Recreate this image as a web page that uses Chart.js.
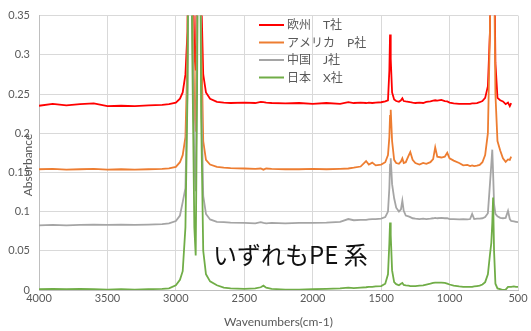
<!DOCTYPE html>
<html>
<head>
<meta charset="utf-8">
<script src="https://cdn.jsdelivr.net/npm/chart.js@4"></script>
<style>
  body { margin: 0; background: #fff; }
  #wrap { width: 531px; height: 331px; }
</style>
</head>
<body>
<div id="wrap"><canvas id="irChart" width="531" height="331"></canvas></div>
<script>
// wavenumber grid (cm-1), high to low
const wavenumbers = [
  4000, 3900, 3800, 3700, 3600, 3500, 3400, 3300, 3200, 3100,
  3050, 3000, 2970, 2950, 2930, 2915, 2900, 2880, 2865, 2855,
  2845, 2830, 2815, 2800, 2780, 2750, 2700, 2650, 2600, 2500,
  2420, 2380, 2360, 2340, 2300, 2200, 2100, 2000, 1900, 1800,
  1740, 1700, 1650, 1610, 1590, 1565, 1540, 1500, 1470, 1450,
  1440, 1435, 1430, 1420, 1405, 1390, 1370, 1355, 1345, 1335,
  1320, 1300, 1287, 1270, 1250, 1220, 1193, 1170, 1140, 1120,
  1105, 1090, 1060, 1035, 1017, 1000, 970, 930, 900, 870,
  850, 835, 820, 800, 780, 760, 740, 720, 705, 695,
  688, 682, 675, 665, 650, 630, 610, 590, 573, 560,
  550, 530, 515, 500
];

const europeT = [
  0.235, 0.2375, 0.2355, 0.237, 0.238, 0.2345, 0.235, 0.2345, 0.2355, 0.236,
  0.237, 0.239, 0.244, 0.252, 0.275, 0.33, 0.70, 0.45, 0.30, 0.28,
  0.42, 0.75, 0.38, 0.275, 0.252, 0.244, 0.24, 0.239, 0.2385, 0.239,
  0.2385, 0.24, 0.2395, 0.239, 0.2385, 0.238, 0.2385, 0.2375, 0.2385, 0.2375,
  0.2395, 0.2385, 0.239, 0.2385, 0.239, 0.2385, 0.239, 0.2395, 0.2405, 0.242,
  0.28, 0.326, 0.295, 0.252, 0.243, 0.241, 0.24, 0.242, 0.2445, 0.241,
  0.2405, 0.24, 0.2395, 0.239, 0.2385, 0.239, 0.2385, 0.24, 0.2405, 0.2415,
  0.242, 0.2415, 0.2425, 0.241, 0.2405, 0.239, 0.238, 0.2375, 0.2375, 0.2375,
  0.2375, 0.238, 0.238, 0.2385, 0.2395, 0.241, 0.245, 0.26, 0.33, 0.55,
  0.70, 0.60, 0.45, 0.29, 0.245, 0.242, 0.2405, 0.237, 0.239, 0.2345,
  0.2385, null, null, null
];

const americaP = [
  0.154, 0.1545, 0.1535, 0.154, 0.1545, 0.1535, 0.154, 0.1535, 0.154, 0.1545,
  0.155, 0.157, 0.163, 0.172, 0.195, 0.30, 0.70, 0.40, 0.23, 0.202,
  0.38, 0.75, 0.33, 0.19, 0.166, 0.16, 0.157, 0.156, 0.1555, 0.155,
  0.1545, 0.155, 0.1535, 0.155, 0.1545, 0.154, 0.154, 0.1545, 0.154, 0.1545,
  0.155, 0.156, 0.1575, 0.1645, 0.160, 0.1625, 0.159, 0.160, 0.163, 0.172,
  0.195, 0.222, 0.230, 0.19, 0.166, 0.162, 0.161, 0.164, 0.168, 0.162,
  0.163, 0.171, 0.176, 0.166, 0.162, 0.160, 0.162, 0.161, 0.163, 0.167,
  0.182, 0.170, 0.169, 0.170, 0.175, 0.168, 0.165, 0.162, 0.159, 0.1595,
  0.158, 0.159, 0.158, 0.1585, 0.1595, 0.163, 0.172, 0.20, 0.33, 0.60,
  0.75, 0.65, 0.42, 0.25, 0.19, 0.178, 0.168, 0.1635, 0.1665, 0.166,
  0.17, null, null, null
];

const chinaJ = [
  0.0825, 0.083, 0.0825, 0.083, 0.0835, 0.083, 0.0835, 0.083, 0.0835, 0.084,
  0.085, 0.088, 0.095, 0.112, 0.13, 0.26, 0.70, 0.35, 0.16, 0.126,
  0.30, 0.75, 0.26, 0.12, 0.097, 0.09, 0.087, 0.0865, 0.086, 0.0855,
  0.085, 0.0865, 0.0855, 0.085, 0.0855, 0.085, 0.0855, 0.0855, 0.086, 0.087,
  0.0905, 0.089, 0.0895, 0.0895, 0.090, 0.0905, 0.0905, 0.091, 0.093, 0.10,
  0.13, 0.16, 0.168, 0.135, 0.117, 0.105, 0.100, 0.103, 0.114, 0.101,
  0.095, 0.094, 0.093, 0.0915, 0.091, 0.0905, 0.091, 0.0905, 0.091, 0.0915,
  0.092, 0.0915, 0.092, 0.0915, 0.0915, 0.0905, 0.0905, 0.090, 0.0905, 0.090,
  0.0905, 0.097, 0.0905, 0.091, 0.091, 0.0915, 0.093, 0.098, 0.135, 0.16,
  0.179, 0.15, 0.11, 0.097, 0.094, 0.092, 0.0915, 0.092, 0.101, 0.0905,
  0.088, 0.0875, 0.087, 0.0865
];

const japanX = [
  0.001, 0.0015, 0.001, 0.0015, 0.001, 0.0005, 0.001, 0.0005, 0.001, 0.0015,
  0.002, 0.006, 0.013, 0.024, 0.08, 0.25, 0.70, 0.30, 0.08, 0.044,
  0.25, 0.75, 0.22, 0.05, 0.02, 0.011, 0.006, 0.003, 0.002, 0.0015,
  0.002, 0.0035, 0.0055, 0.003, 0.0015, 0.0005, 0.0005, 0.001, 0.0015, 0.002,
  0.003, 0.0025, 0.003, 0.0035, 0.004, 0.004, 0.0045, 0.005, 0.008, 0.02,
  0.06, 0.086, 0.07, 0.025, 0.01, 0.0075, 0.006, 0.008, 0.009, 0.0065,
  0.006, 0.0055, 0.005, 0.005, 0.005, 0.0055, 0.006, 0.007, 0.008, 0.009,
  0.0095, 0.0095, 0.0095, 0.009, 0.008, 0.007, 0.0055, 0.0045, 0.004, 0.004,
  0.004, 0.004, 0.0045, 0.005, 0.0055, 0.007, 0.01, 0.02, 0.045, 0.06,
  0.085, 0.118, 0.05, 0.008, 0.002, 0.001, 0.0, 0.0005, 0.004, 0.004,
  0.004, 0.0045, 0.004, 0.004
];

const seriesNames = ['欧州　T社', 'アメリカ　P社', '中国　J社', '日本　X社'];
const seriesColors = ['#ff0000', '#ed7d31', '#a5a5a5', '#70ad47'];
const seriesValues = [europeT, americaP, chinaJ, japanX];

const textGrey = '#595959';

function toPoints(values) {
  const pts = [];
  values.forEach((v, i) => {
    if (v !== null) pts.push({ x: wavenumbers[i], y: v });
  });
  return pts;
}

const datasets = seriesValues.map((vals, i) => ({
  label: seriesNames[i],
  data: toPoints(vals),
  borderColor: seriesColors[i],
  backgroundColor: seriesColors[i],
  borderWidth: 1.8,
  pointRadius: 0,
  tension: 0,
  showLine: true,
  order: 4 - i   // later series drawn on top
}));

// legend, y-axis title and note text
const overlay = {
  id: 'overlay',
  afterDraw(chart) {
    const ctx = chart.ctx;
    ctx.save();

    ctx.font = '12px Lato, "Noto Sans CJK JP"';
    ctx.textBaseline = 'middle';
    chart.data.datasets.forEach((ds, i) => {
      const y = 25 + i * 17.5;
      ctx.strokeStyle = ds.borderColor;
      ctx.lineWidth = 2;
      ctx.beginPath();
      ctx.moveTo(259, y);
      ctx.lineTo(284, y);
      ctx.stroke();
      ctx.fillStyle = textGrey;
      ctx.fillText(ds.label, 287, y + 0.5);
    });

    ctx.translate(28, 165);
    ctx.rotate(-Math.PI / 2);
    ctx.textAlign = 'center';
    ctx.fillStyle = textGrey;
    ctx.font = '12px Lato';
    ctx.fillText('Absorbance', 0, 0);
    ctx.setTransform(1, 0, 0, 1, 0, 0);

    ctx.textAlign = 'left';
    ctx.textBaseline = 'alphabetic';
    ctx.fillStyle = '#111';
    ctx.font = '24px "Noto Sans CJK JP"';
    ctx.fillText('いずれもPE 系', 213, 264);
    ctx.restore();
  }
};

new Chart(document.getElementById('irChart'), {
  type: 'scatter',
  data: { datasets: datasets },
  options: {
    responsive: false,
    animation: false,
    layout: { padding: { top: 13, right: 13, left: 0, bottom: 0 } },
    plugins: {
      legend: { display: false },
      tooltip: { enabled: false }
    },
    scales: {
      x: {
        type: 'linear',
        reverse: true,
        min: 500,
        max: 4000,
        afterFit: (scale) => { scale.height = 41; },
        ticks: {
          stepSize: 500,
          padding: 2,
          color: textGrey,
          font: { family: 'Lato', size: 11 },
          maxRotation: 0,
          callback: (v) => String(v)
        },
        grid: { color: '#d9d9d9', drawTicks: false },
        border: { color: '#bfbfbf' },
        title: {
          display: true,
          text: 'Wavenumbers(cm-1)',
          color: textGrey,
          font: { family: 'Lato', size: 12 },
          padding: { top: 0, bottom: 2 }
        }
      },
      y: {
        min: 0,
        max: 0.35,
        afterFit: (scale) => { scale.width = 39; },
        ticks: {
          stepSize: 0.05,
          padding: 9,
          color: textGrey,
          font: { family: 'Lato', size: 11 },
          callback: (v) => String(+v.toFixed(2))
        },
        grid: { color: '#d9d9d9', drawTicks: false },
        border: { color: '#bfbfbf' }
      }
    }
  },
  plugins: [overlay]
});
</script>
</body>
</html>
